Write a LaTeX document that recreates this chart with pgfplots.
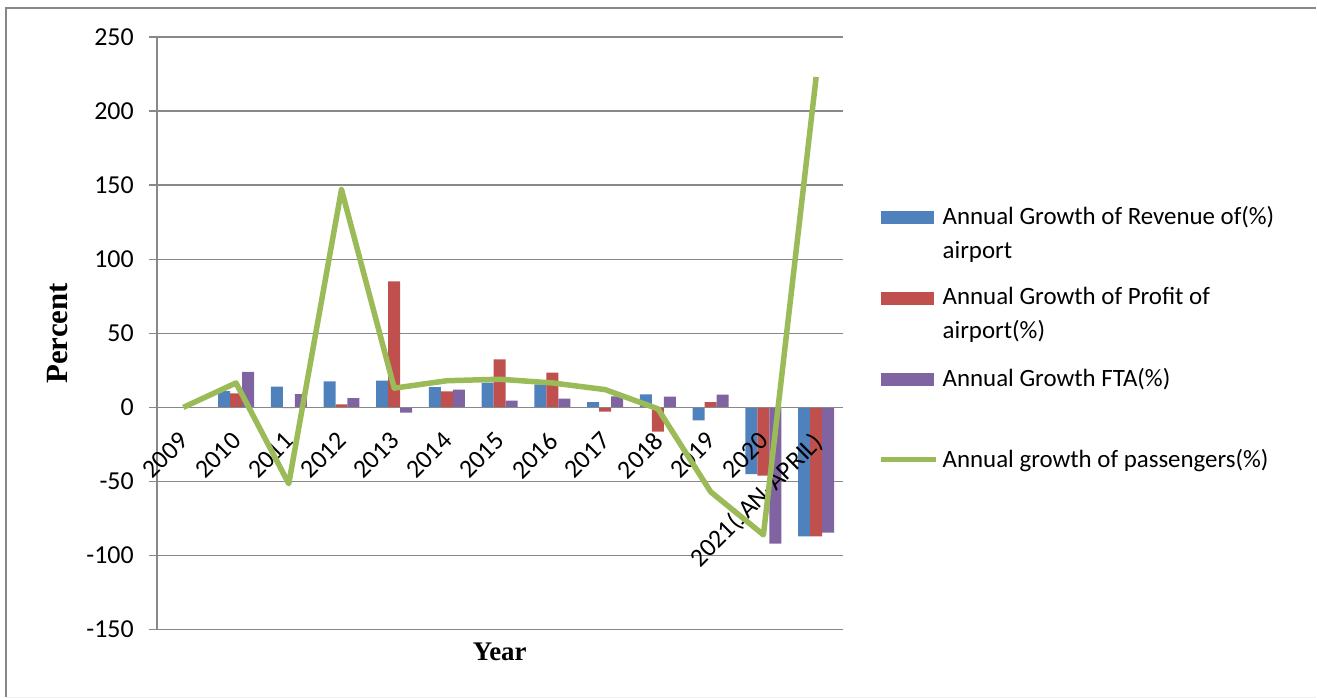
\documentclass[border=0pt]{standalone}
\usepackage{fontspec}
\setmainfont{Carlito}
\newfontfamily\serifbold[BoldFont={Liberation Serif Bold}]{Liberation Serif}
\usepackage{pgfplots}
\pgfplotsset{compat=1.18}
\usepackage{pgfplotstable}

\definecolor{revblue}{HTML}{4F81BD}
\definecolor{profred}{HTML}{C0504D}
\definecolor{ftapurple}{HTML}{8064A2}
\definecolor{passgreen}{HTML}{9BBB59}
\definecolor{gridgray}{HTML}{888888}

% bars under the tick labels, the passenger line over everything
\pgfplotsset{
  layers/barsbelow/.define layer set={
    axis background,axis grid,main,axis ticks,axis lines,
    axis tick labels,axis descriptions,axis foreground
  }{
    grid style={/pgfplots/on layer=axis grid},
    tick style={/pgfplots/on layer=axis ticks},
    axis line style={/pgfplots/on layer=axis lines},
    label style={/pgfplots/on layer=axis descriptions},
    legend style={/pgfplots/on layer=axis descriptions},
    tick label style={/pgfplots/on layer=axis tick labels},
  },
}

% year index, revenue, profit, FTA, passengers (annual growth, %)
\pgfplotstableread{
x   rev    prof   fta    pass
0   0      0      0      0
1   11     9.5    24     16.5
2   14     -0.5   9      -51.5
3   17.5   2      6.3    147
4   18     85     -3.6   13
5   13.7   10.8   12     18
6   16.7   32.4   4.5    19
7   15.5   23.4   5.9    16.5
8   3.6    -2.9   7.5    12
9   8.8    -16.4  7.2    -1
10  -8.8   3.6    8.6    -57
11  -45    -46    -92    -86
12  -87    -87    -84.5  223
}\growthdata

\begin{document}
\begin{tikzpicture}
\begin{axis}[
  set layers=barsbelow,
  at={(0,0)}, anchor=south west,
  scale only axis, width=686bp, height=593bp,
  xmin=-0.5, xmax=12.5, ymin=-150, ymax=250,
  axis x line=middle, axis y line=left,
  axis line style={-, gridgray, line width=1.3bp},
  ytick={-150,-100,...,250},
  ymajorgrids, grid style={gridgray, line width=1.3bp},
  tick align=outside, major tick length=8bp,
  ytick style={gridgray, line width=1.3bp},
  xtick={0,...,12},
  xticklabels={2009,2010,2011,2012,2013,2014,2015,2016,2017,2018,2019,2020,2021(JAN-APRIL)},
  xtick style={draw=none},
  /pgf/number format/assume math mode=true,
  tick label style={font=\fontsize{26}{30}\selectfont},
  yticklabel style={anchor=east, inner sep=0pt, xshift=-15bp},
  xticklabel style={rotate=45, anchor=north east, inner sep=0pt, xshift=-14.4bp, yshift=-6.7bp},
  xlabel={Year}, ylabel={Percent},
  xlabel style={font=\serifbold\bfseries\fontsize{27}{30}\selectfont,
    at={(axis description cs:0.5,0)}, anchor=base, yshift=-31bp},
  ylabel style={font=\serifbold\bfseries\fontsize{31}{34}\selectfont,
    at={([xshift=-99bp]axis description cs:0,0.5)}, anchor=center},
  ybar=0pt, bar width=12bp,
  legend style={
    at={(rel axis cs:1,1)}, anchor=north west, xshift=36bp, yshift=-169bp,
    draw=none, fill=none, inner sep=0pt,
    font=\fontsize{25}{34}\selectfont,
    row sep=28bp, column sep=4bp,
    nodes={inner sep=0pt, align=left, anchor=base west},
  },
  legend cell align=left,
]
\addplot[ybar, fill=revblue, draw=none,
  legend image code/.code={\fill[revblue] (0bp,34bp) rectangle (53bp,47bp);}]
  table[x=x, y=rev] {\growthdata};
\addlegendentry{Annual Growth of Revenue of(\%)\\airport}
\addplot[ybar, fill=profred, draw=none,
  legend image code/.code={\fill[profred] (0bp,34bp) rectangle (53bp,47bp);}]
  table[x=x, y=prof] {\growthdata};
\addlegendentry{Annual Growth of Profit of\\airport(\%)}
\addplot[ybar, fill=ftapurple, draw=none,
  legend image code/.code={\fill[ftapurple] (0bp,34bp) rectangle (53bp,47bp);}]
  table[x=x, y=fta] {\growthdata};
\addlegendentry{Annual Growth FTA(\%)\\\strut}
\addplot[sharp plot, passgreen, line width=5.5bp, line join=round, mark=none,
  on layer=axis foreground,
  legend image code/.code={\draw[passgreen, line width=5bp] (0bp,8bp) -- (55bp,8bp);}]
  table[x=x, y=pass] {\growthdata};
\addlegendentry{Annual growth of passengers(\%)}
\end{axis}
% outer chart frame and page extent
\draw[gridgray, line width=1.5bp] (-151bp,-67bp) -- (-151bp,622bp) -- (1160bp,622bp);
\draw[gray!12, line width=1bp] (-151bp,-67.5bp) -- (1160bp,-67.5bp);
\path (-157bp,-68bp) rectangle (1160bp,630bp);
\end{tikzpicture}
\end{document}
